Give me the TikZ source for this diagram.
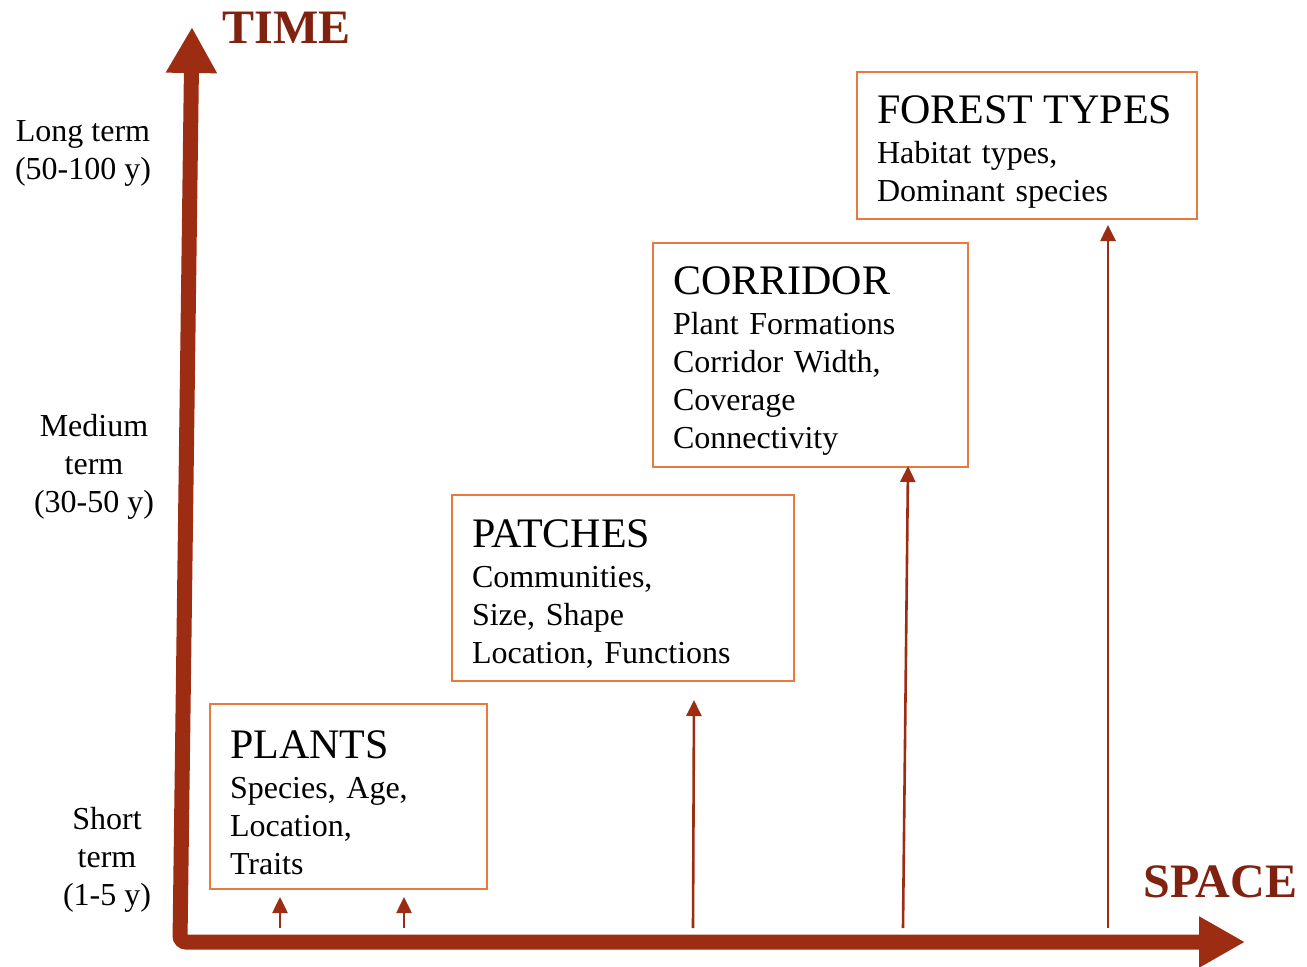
\documentclass[tikz,border=0pt]{standalone}
\usepackage{fontspec}
\setmainfont{Liberation Serif}
\usetikzlibrary{arrows.meta}

\definecolor{axisred}{RGB}{157,45,18}
\definecolor{labelred}{RGB}{128,34,16}
\definecolor{boxorange}{RGB}{232,122,62}

\newcommand{\boxtitle}[1]{{\fontsize{21}{24}\selectfont\rule{0pt}{20pt}#1}\\[1pt]}

\tikzset{
  scalebox/.style={draw=boxorange, line width=1pt, anchor=north west,
    inner xsep=10pt, inner ysep=2pt, align=left,
    font=\fontsize{16}{19}\selectfont},
  axisline/.style={draw=axisred, line width=7.5pt, rounded corners=3pt,
    {Triangle[width=24pt,length=23pt]}-{Triangle[width=24pt,length=23pt]}},
  growth/.style={draw=axisred, line width=1.3pt,
    -{Triangle[width=7.5pt,length=8pt]}},
  termlabel/.style={align=center, font=\fontsize{16}{19}\selectfont},
  axislabel/.style={anchor=base west, inner sep=0pt, text=labelred,
    font=\fontsize{24}{28}\selectfont\bfseries}
}

\begin{document}
\begin{tikzpicture}[x=0.5pt, y=-0.5pt]
    \useasboundingbox (0,0) rectangle (1307,966);

    % axes
    \coordinate (top) at (192,27);
    \coordinate (origin) at (180,942);
    \coordinate (right) at (1245,942);
    \draw[axisline] (top) -- (origin) -- (right);

    \node[axislabel] (time) at (222,43) {TIME};
    \node[axislabel] (space) at (1143,897) {SPACE};

    % time scales
    \node[termlabel] (long) at (83,153) {Long term\\(50-100 y)};
    \node[termlabel] (medium) at (94,467) {Medium\\term\\(30-50 y)};
    \node[termlabel] (short) at (107,860) {Short\\term\\(1-5 y)};

    % spatial levels
    \node[scalebox, minimum width=138.5pt, minimum height=92.5pt, text width=118.5pt]
      (plants) at (209,703) {\boxtitle{PLANTS}Species, Age,\\Location,\\Traits};
    \node[scalebox, minimum width=171pt, minimum height=93pt, text width=151pt]
      (patches) at (451,494) {\boxtitle{PATCHES}Communities,\\Size, Shape\\Location, Functions};
    \node[scalebox, minimum width=157.5pt, minimum height=112pt, text width=137.5pt]
      (corridor) at (652,242) {\boxtitle{CORRIDOR}Plant Formations\\Corridor Width,\\Coverage\\Connectivity};
    \node[scalebox, minimum width=170pt, minimum height=73.5pt, text width=150pt]
      (forest) at (856,71) {\boxtitle{FOREST TYPES}Habitat types,\\Dominant species};

    % growth arrows
    \coordinate (a1) at (280,928);
    \coordinate (b1) at (280,897);
    \coordinate (a2) at (404,928);
    \coordinate (b2) at (404,897);
    \coordinate (a3) at (693,928);
    \coordinate (b3) at (694,700);
    \coordinate (a4) at (903,928);
    \coordinate (b4) at (908,466);
    \coordinate (a5) at (1108,928);
    \coordinate (b5) at (1108,225);

    \draw[growth] (a1) -- (b1);
    \draw[growth] (a2) -- (b2);
    \draw[growth] (a3) -- (b3);
    \draw[growth] (a4) -- (b4);
    \draw[growth] (a5) -- (b5);
  \end{tikzpicture}
\end{document}
